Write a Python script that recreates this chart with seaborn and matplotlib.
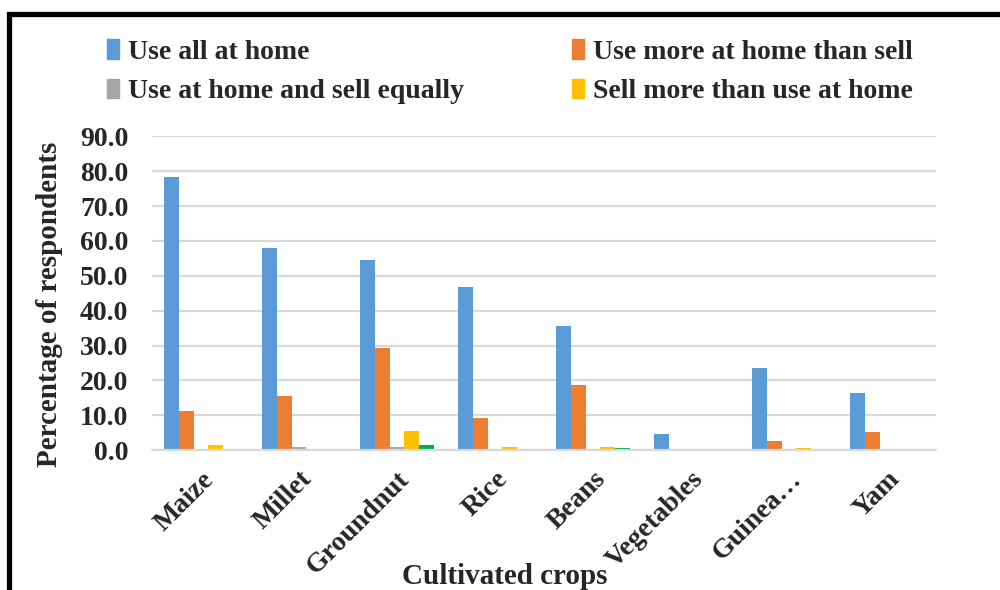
import pandas as pd
import numpy as np
import matplotlib.pyplot as plt
import matplotlib.patches as mpatches
import seaborn as sns

crops = ["Maize", "Millet", "Groundnut", "Rice", "Beans", "Vegetables", "Guinea…", "Yam"]
series = ["Use all at home", "Use more at home than sell", "Use at home and sell equally",
          "Sell more than use at home", "Sell all"]

use_all_home = [78.2, 58.1, 54.4, 46.8, 35.5, 4.5, 23.6, 16.4]
use_more_home = [11.2, 15.4, 29.3, 9.2, 18.6, 0.0, 2.6, 5.1]
sell_equally = [0.4, 0.9, 0.9, 0.4, 0.0, 0.0, 0.0, 0.4]
sell_more = [1.4, 0.4, 5.6, 0.9, 0.9, 0.0, 0.5, 0.0]
sell_all = [0.0, 0.0, 1.4, 0.0, 0.5, 0.0, 0.0, 0.0]

colors = ["#5B9BD5", "#ED7D31", "#A5A5A5", "#FFC000", "#00B050"]

sns.set_theme(style="white")
plt.rcParams['font.family'] = ['Liberation Serif', 'DejaVu Serif']
plt.rcParams['font.weight'] = 'bold'

df = pd.DataFrame({
    'Crop': crops * 5,
    'Series': np.repeat(series, len(crops)),
    'Value': use_all_home + use_more_home + sell_equally + sell_more + sell_all,
})

fig = plt.figure(figsize=(10, 5.9), dpi=100)
ax = fig.add_axes([0.152, 0.237, 0.784, 0.532])

sns.barplot(data=df, x='Crop', y='Value', hue='Series', hue_order=series,
            palette=dict(zip(series, colors)), width=0.765, saturation=1,
            legend=False, ax=ax, edgecolor='none', linewidth=0)

ax.set_ylim(0, 90)
ax.set_yticks(np.arange(0, 91, 10))
ax.set_yticklabels([f"{v:.1f}" for v in np.arange(0, 91, 10)], fontsize=20, fontweight='bold')
ax.set_xticks(range(len(crops)))
ax.set_xticklabels(crops, rotation=45, ha='right', rotation_mode='anchor',
                   fontsize=20, fontweight='bold')
ax.tick_params(axis='y', length=0, pad=17)
ax.tick_params(axis='x', length=0, pad=12)
ax.yaxis.grid(True, color='#D9D9D9', linewidth=1.6)
ax.set_axisbelow(True)
for s in ['top', 'right', 'left']:
    ax.spines[s].set_visible(False)
ax.spines['bottom'].set_color('#D9D9D9')
ax.spines['bottom'].set_linewidth(1.6)

ax.set_ylabel("Percentage of respondents", fontsize=21, fontweight='bold')
ax.yaxis.set_label_coords(-0.113, 0.465)
ax.set_xlabel("Cultivated crops", fontsize=21, fontweight='bold')
ax.xaxis.set_label_coords(0.45, -0.36)

order = [0, 2, 1, 3]
handles = [mpatches.Patch(color=colors[i], label=series[i]) for i in order]
fig.legend(handles=handles, ncol=2, loc='upper left', bbox_to_anchor=(0.093, 0.957),
           frameon=False, prop={'weight': 'bold', 'size': 20},
           handlelength=0.42, handleheight=0.7, handletextpad=0.33,
           columnspacing=3.9, labelspacing=0.5, borderpad=0)

fig.patches.append(mpatches.Rectangle((0.0085, -0.1), 1.2, 0.1 + 1 - 13.5 / 590,
                                      transform=fig.transFigure, fill=False,
                                      edgecolor='black', linewidth=3.8))

fig.savefig("out.png", dpi=100)
